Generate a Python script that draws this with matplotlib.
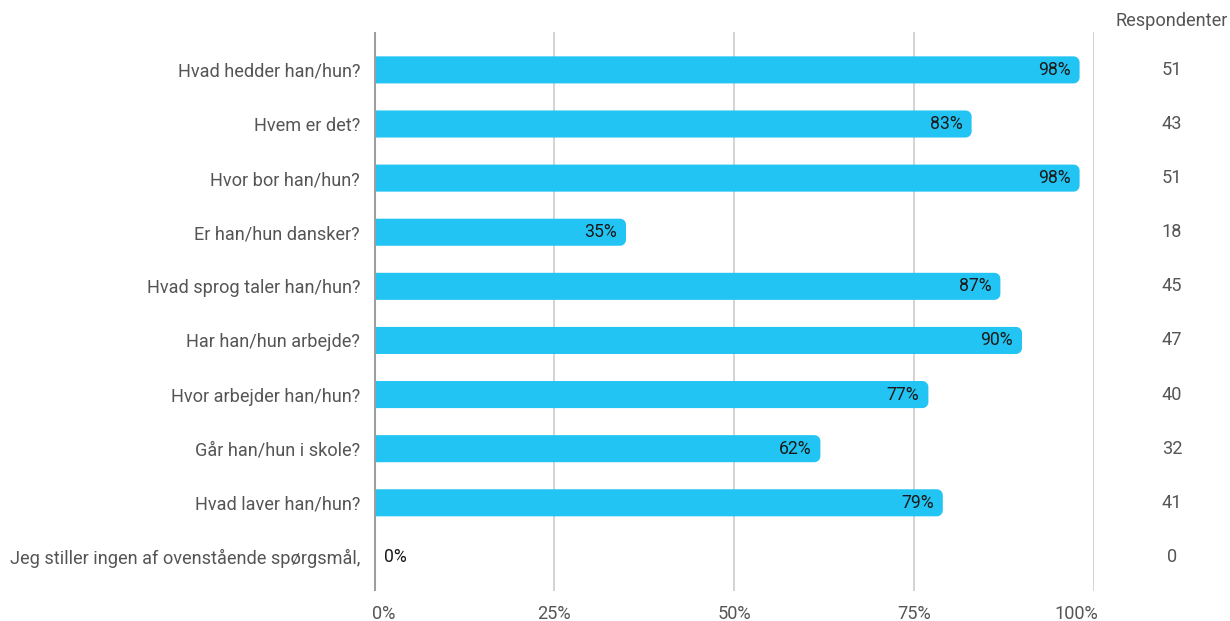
import numpy as np
import matplotlib.pyplot as plt
from matplotlib.patches import Polygon

plt.rcParams['font.family'] = ['Roboto', 'DejaVu Sans']

questions = [
    'Hvad hedder han/hun?',
    'Hvem er det?',
    'Hvor bor han/hun?',
    'Er han/hun dansker?',
    'Hvad sprog taler han/hun?',
    'Har han/hun arbejde?',
    'Hvor arbejder han/hun?',
    'Går han/hun i skole?',
    'Hvad laver han/hun?',
    'Jeg stiller ingen af ovenstående spørgsmål,',
]
percent = [98, 83, 98, 35, 87, 90, 77, 62, 79, 0]
respondents = [51, 43, 51, 18, 45, 47, 40, 32, 41, 0]
ticks = [0, 25, 50, 75, 100]

bar_color = '#21c4f3'
text_gray = '#555555'
fs = 13.1

fig = plt.figure(figsize=(12.3, 6.21), dpi=100)
W, H = 1230, 621
ax = fig.add_axes([374 / W, 30 / H, 720 / W, 559 / H])
ax.set_xlim(0, 100)
ax.set_ylim(9.63, -0.7)

# pixel size in data units, used for the rounded bar ends and offsets
px_x = 100 / 720
px_y = 10.33 / 559
r = 6
bar_h = 0.5


def bar_outline(y, v):
    # square left end, rounded right end
    rx, ry = r * px_x, r * px_y
    top, bot = y - bar_h / 2, y + bar_h / 2
    a1 = np.linspace(-np.pi / 2, 0, 8)
    a2 = np.linspace(0, np.pi / 2, 8)
    pts = [(0, top)]
    pts += [(v - rx + rx * np.cos(a), top + ry + ry * np.sin(a)) for a in a1]
    pts += [(v - rx + rx * np.cos(a), bot - ry + ry * np.sin(a)) for a in a2]
    pts += [(0, bot)]
    return pts


for i, v in enumerate(percent):
    if v > 0:
        ax.add_patch(Polygon(bar_outline(i, v), closed=True, facecolor=bar_color,
                             edgecolor='none', zorder=3))
        ax.text(v - 9 * px_x, i, f'{v}%', ha='right', va='center',
                fontsize=12.7, color='#1a1a1a', zorder=4)
    else:
        ax.text(10 * px_x, i, f'{v}%', ha='left', va='center',
                fontsize=12.7, color='#1a1a1a', zorder=4)

for t in ticks:
    ax.axvline(t, color='#cccccc', linewidth=1.2, zorder=1)
ax.axvline(0, color='#9e9e9e', linewidth=2.2, zorder=5)

ax.set_yticks(range(len(questions)))
ax.set_yticklabels(questions, fontsize=fs, color=text_gray)
ax.tick_params(axis='y', length=0, pad=10)
ax.set_xticks([])

# x tick labels, outer ones kept inside the plot edges
for t in ticks:
    ha = 'left' if t == 0 else ('right' if t == 100 else 'center')
    dx = -2 * px_x if t == 0 else (4 * px_x if t == 100 else 0)
    ax.text(t + dx, 9.63 + 23 * px_y, f'{t}%', ha=ha, va='center',
            fontsize=fs, color=text_gray, clip_on=False)

# respondent counts column
col_x = 100 + 78 * px_x
ax.text(col_x, -0.7 - 11 * px_y, 'Respondenter', ha='center', va='center',
        fontsize=fs, color=text_gray, clip_on=False)
for i, n in enumerate(respondents):
    ax.text(col_x, i, str(n), ha='center', va='center', fontsize=fs,
            color=text_gray, clip_on=False)

for s in ax.spines.values():
    s.set_visible(False)

fig.savefig('out.png', dpi=100)
